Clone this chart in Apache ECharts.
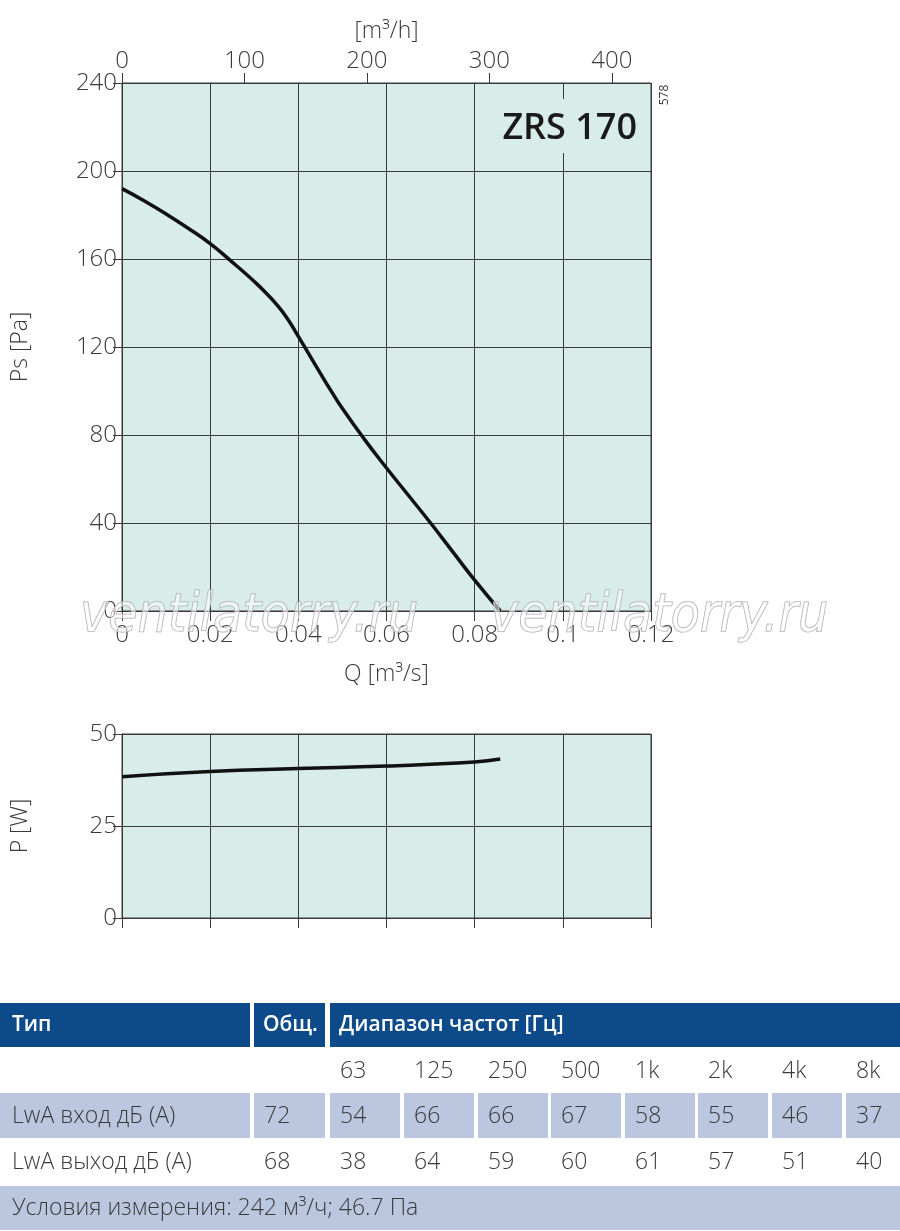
<!DOCTYPE html>
<html>
<head>
<meta charset="utf-8">
<script src="https://cdn.jsdelivr.net/npm/echarts@6/dist/echarts.min.js"></script>
<style>
html,body{margin:0;padding:0;background:#fff;}
#chart{width:900px;height:1231px;}
</style>
</head>
<body>
<div id="chart"></div>
<script>
// ---- Data ----
const qPs = [0, 0.005, 0.01, 0.015, 0.02, 0.025, 0.0275, 0.03, 0.0325, 0.035, 0.0375, 0.04, 0.0425, 0.045, 0.0475, 0.05, 0.055, 0.06, 0.065, 0.07, 0.075, 0.08, 0.0858];
const ps  = [192, 186.5, 180.5, 174, 167, 158.6, 154.3, 149.8, 144.9, 139.5, 133, 124.8, 116.4, 108, 99.8, 92, 78, 65, 52.5, 40, 27, 14, 0];
const qP  = [0, 0.02, 0.04, 0.06, 0.08, 0.0858];
const pw  = [38.4, 39.8, 40.6, 41.3, 42.4, 43.2];

const freqLabels = ['63', '125', '250', '500', '1k', '2k', '4k', '8k'];
const rowIn  = ['LwA вход дБ (A)', '72', '54', '66', '66', '67', '58', '55', '46', '37'];
const rowOut = ['LwA выход дБ (A)', '68', '38', '64', '59', '60', '61', '57', '51', '40'];
const headerTexts = ['Тип', 'Общ.', 'Диапазон частот [Гц]'];
const footerText = 'Условия измерения: 242 м³/ч; 46.7 Па';
const modelName = 'ZRS 170';
const watermark = 'ventilatorry.ru';

// ---- Layout ----
const FONT = '"Open Sans", "DejaVu Sans", sans-serif';
const TXT = '#3a3a3a';
const PLOT_BG = '#d8ecea';
const GRID_C = '#3a3a3a';
const cols = [[0,250],[254,325],[330,400],[404,474],[478,548],[551,621],[625,695],[698,768],[772,842],[846,900]];
const HEAD_BLUE = '#0c4a89';
const LIGHT = '#bac7df';

function pair(xs, ys){ return xs.map((x,i)=>[x, ys[i]]); }

const graphic = [];
// header row
const headerSpans = [[0,250],[254,325],[330,900]];
headerSpans.forEach((s,i)=>{
  graphic.push({type:'rect', shape:{x:s[0], y:1003, width:s[1]-s[0], height:44}, style:{fill:HEAD_BLUE}});
  graphic.push({type:'text', x:s[0]+(i===0?12:9), y:1025, style:{text:headerTexts[i], fill:'#fff', font:'600 21px '+FONT, verticalAlign:'middle'}});
});
// frequency row
freqLabels.forEach((f,i)=>{
  graphic.push({type:'text', x:cols[i+2][0]+10, y:1071, style:{text:f, fill:TXT, font:'300 23px '+FONT, verticalAlign:'middle'}});
});
// inlet row (shaded cells)
rowIn.forEach((t,i)=>{
  graphic.push({type:'rect', shape:{x:cols[i][0], y:1093, width:cols[i][1]-cols[i][0], height:45}, style:{fill:LIGHT}});
  graphic.push({type:'text', x:cols[i][0]+ (i===0?12:10), y:1116, style:{text:t, fill:TXT, font:'300 23px '+FONT, verticalAlign:'middle'}});
});
// outlet row
rowOut.forEach((t,i)=>{
  graphic.push({type:'text', x:cols[i][0]+ (i===0?12:10), y:1162, style:{text:t, fill:TXT, font:'300 23px '+FONT, verticalAlign:'middle'}});
});
// footer
graphic.push({type:'rect', shape:{x:0, y:1186, width:900, height:44}, style:{fill:LIGHT}});
graphic.push({type:'text', x:12, y:1208, style:{text:footerText, fill:TXT, font:'300 23px '+FONT, verticalAlign:'middle'}});
// model name with background (interrupts grid line)
graphic.push({type:'rect', shape:{x:500, y:99, width:140, height:54}, style:{fill:PLOT_BG}, z:50});
graphic.push({type:'text', x:637, y:129, z:51, style:{text:modelName, fill:'#1a1a1a', font:'600 36px '+FONT, align:'right', verticalAlign:'middle'}});
// side code
graphic.push({type:'text', x:665, y:95, rotation:Math.PI/2, z:51, style:{text:'578', fill:TXT, font:'12px '+FONT, align:'center', verticalAlign:'middle'}});
// watermarks
[80, 490].forEach(x=>{
  graphic.push({type:'text', x:x, y:617, z:100, style:{text:watermark, fill:'rgba(255,255,255,0.55)', stroke:'#a8a8a8', lineWidth:1, font:'italic 53px "Liberation Sans Narrow", "DejaVu Sans Condensed", sans-serif', verticalAlign:'middle'}});
});

const chart = echarts.init(document.getElementById('chart'), null, {renderer:'canvas'});
const axisLbl = {color:TXT, fontSize:24, fontFamily:FONT, fontWeight:300};
const nameStyle = {color:TXT, fontSize:23, fontFamily:FONT, fontWeight:300};
chart.setOption({
  animation:false,
  backgroundColor:'#fff',
  grid:[
    {left:122, top:83, width:529, height:528, show:true, backgroundColor:PLOT_BG, borderColor:GRID_C, borderWidth:1, containLabel:false},
    {left:122, top:734, width:529, height:184, show:true, backgroundColor:PLOT_BG, borderColor:GRID_C, borderWidth:1, containLabel:false}
  ],
  xAxis:[
    {type:'value', gridIndex:0, position:'bottom', min:0, max:0.12, interval:0.02,
     name:'Q [m³/s]', nameLocation:'middle', nameGap:52, nameTextStyle:nameStyle,
     axisLine:{show:true, lineStyle:{color:GRID_C}}, axisTick:{show:true, length:10, lineStyle:{color:GRID_C}},
     axisLabel:Object.assign({margin:12}, axisLbl),
     splitLine:{show:true, lineStyle:{color:GRID_C, width:1}}},
    {type:'value', gridIndex:0, position:'top', min:0, max:432, interval:100,
     name:'[m³/h]', nameLocation:'middle', nameGap:40, nameTextStyle:nameStyle,
     axisLine:{show:true, lineStyle:{color:GRID_C}}, axisTick:{show:true, length:10, lineStyle:{color:GRID_C}},
     axisLabel:Object.assign({margin:10, showMaxLabel:false, formatter:v=> (v%100===0? String(v):'')}, axisLbl),
     splitLine:{show:false}},
    {type:'value', gridIndex:1, position:'bottom', min:0, max:0.12, interval:0.02,
     axisLine:{show:true, lineStyle:{color:GRID_C}}, axisTick:{show:true, length:10, lineStyle:{color:GRID_C}},
     axisLabel:{show:false},
     splitLine:{show:true, lineStyle:{color:GRID_C, width:1}}}
  ],
  yAxis:[
    {type:'value', gridIndex:0, min:0, max:240, interval:40,
     name:'Ps [Pa]', nameLocation:'middle', nameGap:90, nameRotate:90, nameTextStyle:nameStyle,
     axisLine:{show:true, lineStyle:{color:GRID_C}}, axisTick:{show:true, length:9, lineStyle:{color:GRID_C}},
     axisLabel:Object.assign({margin:5}, axisLbl),
     splitLine:{show:true, lineStyle:{color:GRID_C, width:1}}},
    {type:'value', gridIndex:1, min:0, max:50, interval:25,
     name:'P [W]', nameLocation:'middle', nameGap:90, nameRotate:90, nameTextStyle:nameStyle,
     axisLine:{show:true, lineStyle:{color:GRID_C}}, axisTick:{show:true, length:9, lineStyle:{color:GRID_C}},
     axisLabel:Object.assign({margin:5}, axisLbl),
     splitLine:{show:true, lineStyle:{color:GRID_C, width:1}}}
  ],
  series:[
    {type:'line', xAxisIndex:0, yAxisIndex:0, data:pair(qPs, ps), smooth:0.5, symbol:'none',
     lineStyle:{color:'#111', width:3.5}, z:10},
    {type:'line', xAxisIndex:2, yAxisIndex:1, data:pair(qP, pw), smooth:0.5, symbol:'none',
     lineStyle:{color:'#111', width:3.5}, z:10}
  ],
  graphic:graphic
});
</script>
</body>
</html>
